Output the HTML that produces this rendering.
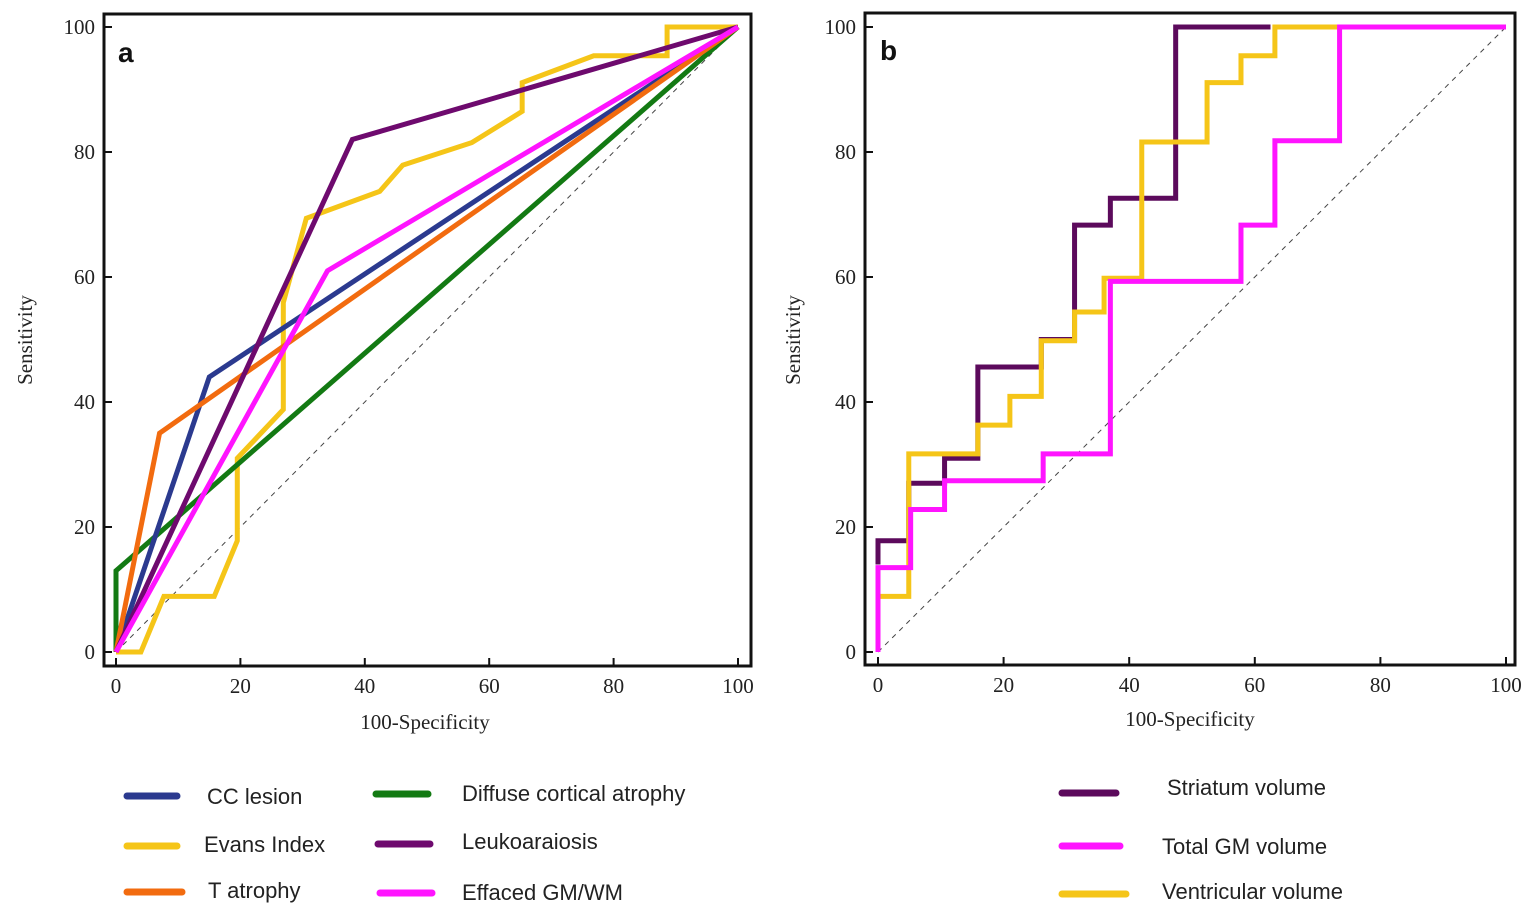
<!DOCTYPE html>
<html><head><meta charset="utf-8"><style>
html,body{margin:0;padding:0;background:#fff;}
svg{display:block}
.t{font-family:"Liberation Serif",serif;font-size:21px;fill:#222}
.l{font-family:"Liberation Sans",sans-serif;font-size:22px;fill:#222}
</style></head><body>
<svg id="s" width="1535" height="924" xmlns="http://www.w3.org/2000/svg">
<rect x="0" y="0" width="1535" height="924" fill="#fff"/>
<rect x="104" y="14" width="647" height="652" fill="none" stroke="#111" stroke-width="3"/>
<rect x="865" y="13" width="650" height="652" fill="none" stroke="#111" stroke-width="3"/>
<text x="118" y="62" font-family="Liberation Sans,sans-serif" font-weight="bold" font-size="28" fill="#111">a</text>
<text x="880" y="60" font-family="Liberation Sans,sans-serif" font-weight="bold" font-size="28" fill="#111">b</text>
<g id="g"></g>
<text class="t" x="425" y="729" text-anchor="middle">100-Specificity</text>
<text class="t" x="1190" y="726" text-anchor="middle">100-Specificity</text>
<text class="t" transform="translate(32,340) rotate(-90)" text-anchor="middle">Sensitivity</text>
<text class="t" transform="translate(800,340) rotate(-90)" text-anchor="middle">Sensitivity</text>
<g stroke-width="7" stroke-linecap="round">
<line x1="127" y1="796" x2="177" y2="796" stroke="#2b3a8f"/>
<line x1="127" y1="846" x2="177" y2="846" stroke="#f5c518"/>
<line x1="127" y1="892" x2="182" y2="892" stroke="#f26b0f"/>
<line x1="376" y1="794" x2="428" y2="794" stroke="#137a13"/>
<line x1="378" y1="844" x2="430" y2="844" stroke="#6e0a6e"/>
<line x1="380" y1="893" x2="432" y2="893" stroke="#ff14ff"/>
<line x1="1062" y1="793" x2="1116" y2="793" stroke="#5c0a5c"/>
<line x1="1062" y1="846" x2="1120" y2="846" stroke="#ff14ff"/>
<line x1="1062" y1="894" x2="1126" y2="894" stroke="#f5c518"/>
</g>
<text class="l" x="207" y="804">CC lesion</text>
<text class="l" x="204" y="852">Evans Index</text>
<text class="l" x="208" y="898">T atrophy</text>
<text class="l" x="462" y="801">Diffuse cortical atrophy</text>
<text class="l" x="462" y="849">Leukoaraiosis</text>
<text class="l" x="462" y="900">Effaced GM/WM</text>
<text class="l" x="1167" y="795">Striatum volume</text>
<text class="l" x="1162" y="854">Total GM volume</text>
<text class="l" x="1162" y="899">Ventricular volume</text>
</svg>
<script>
var NS="http://www.w3.org/2000/svg",g=document.getElementById('g');
function el(t,a){var e=document.createElementNS(NS,t);for(var k in a)e.setAttribute(k,a[k]);g.appendChild(e);return e;}
function panel(x0,x1,y0,y1,axL,axB,series){
 var X=function(v){return x0+(x1-x0)*v/100},Y=function(v){return y0+(y1-y0)*v/100};
 for(var v=0;v<=100;v+=20){
  el('line',{x1:axL,y1:Y(v),x2:axL+8,y2:Y(v),stroke:'#111','stroke-width':2});
  el('line',{x1:X(v),y1:axB,x2:X(v),y2:axB-8,stroke:'#111','stroke-width':2});
  var t=el('text',{x:axL-9,y:Y(v)+7,'text-anchor':'end','class':'t'});t.textContent=v;
  var u=el('text',{x:X(v),y:axB+27,'text-anchor':'middle','class':'t'});u.textContent=v;
 }
 el('line',{x1:X(0),y1:Y(0),x2:X(100),y2:Y(100),stroke:'#444','stroke-width':1,'stroke-dasharray':'5,5'});
 series.forEach(function(s){
  el('polyline',{points:s[1].map(function(p){return X(p[0])+','+Y(p[1])}).join(' '),fill:'none',stroke:s[0],'stroke-width':5,'stroke-linejoin':'miter'});
 });
}
panel(116,738,652,27,104,666,[
 ['#f5c518',[[0,0],[4,0],[7.7,8.9],[15.8,8.9],[19.5,17.8],[19.5,31],[26.9,38.8],[26.9,55.9],[30.6,69.4],[42.4,73.7],[46.1,77.9],[57.2,81.5],[65.3,86.5],[65.3,91.1],[76.8,95.4],[88.6,95.4],[88.6,100],[100,100]]],
 ['#137a13',[[0,0],[0,13],[100,100]]],
 ['#2b3a8f',[[0,0],[15,44],[100,100]]],
 ['#f26b0f',[[0,0],[7,35],[100,100]]],
 ['#6e0a6e',[[0,0],[38,82],[100,100]]],
 ['#ff14ff',[[0,0],[34,61],[100,100]]]
]);
panel(878,1506,652,27,865,665,[
 ['#5c0a5c',[[0,14],[0,17.8],[4.9,17.8],[4.9,27],[10.6,27],[10.6,31],[15.9,31],[15.9,45.6],[26,45.6],[26,50],[31.3,50],[31.3,68.3],[37,68.3],[37,72.6],[47.4,72.6],[47.4,100],[62.5,100]]],
 ['#f5c518',[[0,8.9],[4.9,8.9],[4.9,31.7],[15.9,31.7],[15.9,36.3],[21,36.3],[21,40.9],[26,40.9],[26,49.8],[31.3,49.8],[31.3,54.4],[36,54.4],[36,59.8],[42,59.8],[42,81.6],[52.4,81.6],[52.4,91.1],[57.8,91.1],[57.8,95.4],[63.2,95.4],[63.2,100],[73.2,100]]],
 ['#ff14ff',[[0,0],[0,13.5],[5.2,13.5],[5.2,22.8],[10.6,22.8],[10.6,27.4],[26.3,27.4],[26.3,31.7],[37,31.7],[37,59.3],[57.8,59.3],[57.8,68.3],[63.2,68.3],[63.2,81.8],[73.5,81.8],[73.5,100],[100,100]]]
]);
</script>
</body></html>
